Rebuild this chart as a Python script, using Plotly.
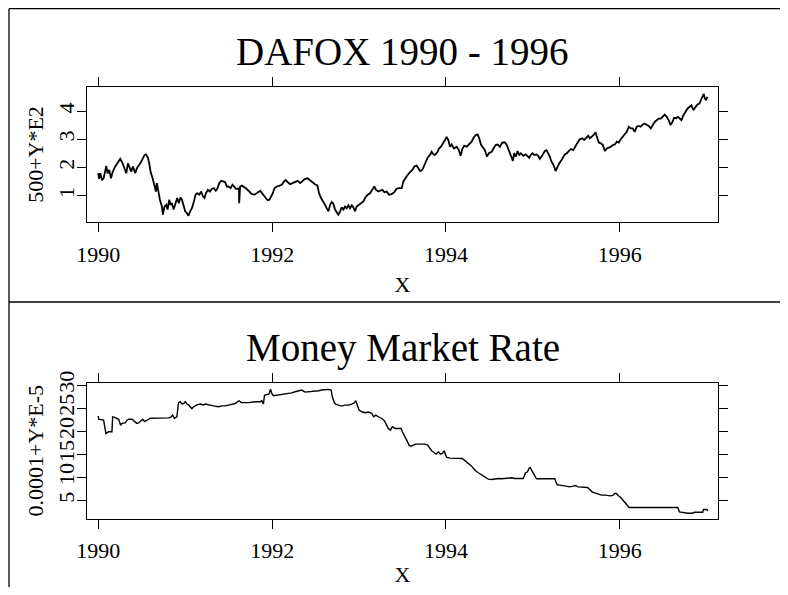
import plotly.graph_objects as go

# ---------------- data ----------------
dafox_year = [
    1990.000, 1990.008, 1990.023, 1990.042, 1990.061, 1990.080, 1990.092, 1990.107, 1990.126, 1990.146,
    1990.165, 1990.195, 1990.222, 1990.253, 1990.280, 1990.303, 1990.322, 1990.341, 1990.360, 1990.379,
    1990.398, 1990.425, 1990.444, 1990.464, 1990.483, 1990.510, 1990.533, 1990.548, 1990.571, 1990.586,
    1990.602, 1990.625, 1990.644, 1990.663, 1990.674, 1990.693, 1990.709, 1990.732, 1990.743, 1990.762,
    1990.782, 1990.797, 1990.816, 1990.831, 1990.847, 1990.866, 1990.885, 1990.908, 1990.927, 1990.946,
    1990.962, 1990.981, 1991.000, 1991.019, 1991.038, 1991.057, 1991.077, 1991.100, 1991.119, 1991.138,
    1991.161, 1991.184, 1991.203, 1991.222, 1991.238, 1991.261, 1991.284, 1991.307, 1991.330, 1991.352,
    1991.372, 1991.391, 1991.414, 1991.437, 1991.460, 1991.479, 1991.498, 1991.521, 1991.544, 1991.563,
    1991.582, 1991.605, 1991.618, 1991.621, 1991.624, 1991.632, 1991.651, 1991.670, 1991.697, 1991.728,
    1991.747, 1991.766, 1991.797, 1991.824, 1991.843, 1991.862, 1991.881, 1991.904, 1991.927, 1991.950,
    1991.969, 1991.989, 1992.008, 1992.027, 1992.054, 1992.080, 1992.111, 1992.138, 1992.157, 1992.180,
    1992.207, 1992.234,
    1992.264, 1992.295, 1992.322, 1992.349, 1992.379, 1992.406, 1992.437, 1992.464, 1992.494, 1992.521,
    1992.540, 1992.563, 1992.590, 1992.609, 1992.628, 1992.648, 1992.667, 1992.686, 1992.705, 1992.724,
    1992.743, 1992.762, 1992.782, 1992.801, 1992.820, 1992.839, 1992.858, 1992.877, 1992.897, 1992.916,
    1992.935, 1992.954, 1992.973, 1993.000, 1993.023, 1993.050, 1993.069, 1993.100, 1993.126, 1993.153,
    1993.176, 1993.195, 1993.222, 1993.241, 1993.268, 1993.291, 1993.318, 1993.345, 1993.375, 1993.406,
    1993.433, 1993.460, 1993.490, 1993.510, 1993.529, 1993.559, 1993.586, 1993.613, 1993.636, 1993.663,
    1993.682, 1993.701, 1993.728, 1993.751, 1993.770, 1993.789, 1993.816, 1993.835, 1993.854, 1993.874,
    1993.904, 1993.920, 1993.943, 1993.969, 1993.989, 1994.008, 1994.027, 1994.046, 1994.065, 1994.092,
    1994.123, 1994.149, 1994.169, 1994.188, 1994.211, 1994.238, 1994.264, 1994.295, 1994.318, 1994.341,
    1994.364, 1994.383, 1994.402, 1994.421, 1994.448, 1994.471, 1994.494, 1994.525, 1994.548, 1994.571,
    1994.594, 1994.621, 1994.648,
    1994.678, 1994.697, 1994.724, 1994.747, 1994.770, 1994.785, 1994.805, 1994.824, 1994.843, 1994.862,
    1994.889, 1994.916, 1994.939, 1994.958, 1994.977, 1994.996, 1995.015, 1995.042, 1995.061, 1995.080,
    1995.100, 1995.119, 1995.138, 1995.157, 1995.176, 1995.195, 1995.215, 1995.238, 1995.261, 1995.284,
    1995.303, 1995.330, 1995.349, 1995.368, 1995.391, 1995.414, 1995.437, 1995.464, 1995.483, 1995.502,
    1995.521, 1995.540, 1995.567, 1995.590, 1995.617, 1995.636, 1995.655, 1995.674, 1995.697, 1995.720,
    1995.743, 1995.759, 1995.782, 1995.805, 1995.828, 1995.851, 1995.874, 1995.897, 1995.920, 1995.943,
    1995.966, 1995.989, 1996.011, 1996.034, 1996.057, 1996.080, 1996.103, 1996.126, 1996.149, 1996.172,
    1996.195, 1996.218, 1996.241, 1996.264, 1996.287, 1996.310, 1996.333, 1996.356, 1996.379, 1996.402,
    1996.425, 1996.448, 1996.471, 1996.494, 1996.517, 1996.540, 1996.563, 1996.582, 1996.602, 1996.625,
    1996.648, 1996.670, 1996.693, 1996.709, 1996.732, 1996.755, 1996.778, 1996.801, 1996.824, 1996.847,
    1996.870, 1996.893, 1996.916, 1996.939, 1996.954, 1996.966, 1996.977, 1996.992, 1997.008,
]
dafox_value = [
    1.80, 1.60, 1.80, 1.56, 1.62, 1.86, 2.06, 1.80, 1.92, 1.62,
    1.84, 2.04, 2.15, 2.31, 2.15, 1.98, 1.80, 2.15, 1.98, 1.86,
    2.04, 1.80, 1.98, 2.06, 2.15, 2.31, 2.45, 2.47, 2.35, 2.15,
    1.84, 1.62, 1.39, 1.15, 1.45, 1.04, 0.86, 0.62, 0.33, 0.62,
    0.68, 0.51, 0.86, 0.68, 0.74, 0.51, 0.74, 0.92, 0.74, 0.94,
    0.86, 0.62, 0.45, 0.39, 0.29, 0.45, 0.56, 0.80, 1.04, 1.09,
    1.04, 1.15, 0.98, 0.92, 1.09, 1.21, 1.15, 1.25, 1.27, 1.18,
    1.27, 1.45, 1.53, 1.51, 1.48, 1.33, 1.33, 1.27, 1.39, 1.33,
    1.25, 1.25, 1.25, 0.74, 1.30, 1.33, 1.36, 1.33, 1.27, 1.18,
    1.13, 1.06, 1.04, 1.08, 1.13, 1.18, 1.09, 1.01, 0.92, 0.84,
    0.86, 0.98, 1.09, 1.27, 1.33, 1.35, 1.39, 1.51, 1.56, 1.48,
    1.41, 1.45,
    1.48, 1.53, 1.45, 1.51, 1.60, 1.62, 1.54, 1.47, 1.41, 1.36,
    1.09, 0.92, 0.80, 0.68, 0.56, 0.45, 0.68, 0.78, 0.71, 0.51,
    0.42, 0.33, 0.45, 0.59, 0.51, 0.62, 0.56, 0.66, 0.56, 0.66,
    0.59, 0.45, 0.62, 0.68, 0.74, 0.80, 0.92, 1.04, 1.09, 1.21,
    1.33, 1.21, 1.15, 1.18, 1.21, 1.13, 1.15, 1.04, 1.06, 1.13,
    1.25, 1.27, 1.27, 1.51, 1.62, 1.74, 1.84, 1.92, 2.04, 2.07,
    1.98, 1.88, 1.92, 2.09, 2.21, 2.35, 2.45, 2.56, 2.47, 2.45,
    2.56, 2.68, 2.74, 2.86, 2.98, 3.09, 2.98, 2.74, 2.82, 2.68,
    2.74, 2.62, 2.42, 2.66, 2.78, 2.74, 2.82, 2.92, 3.06, 3.15,
    3.18, 3.04, 2.82, 2.74, 2.62, 2.39, 2.51, 2.56, 2.68, 2.80,
    2.82, 2.74, 2.89,
    2.89, 2.82, 2.62, 2.45, 2.24, 2.51, 2.39, 2.59, 2.45, 2.51,
    2.42, 2.47, 2.39, 2.35, 2.45, 2.51, 2.45, 2.47, 2.42, 2.31,
    2.39, 2.51, 2.59, 2.62, 2.51, 2.39, 2.21, 2.09, 1.88, 2.04,
    2.15, 2.27, 2.39, 2.47, 2.51, 2.59, 2.66, 2.62, 2.74, 2.80,
    2.92, 3.01, 3.04, 2.98, 3.09, 3.13, 3.04, 3.09, 3.15, 3.25,
    3.04, 2.89, 2.86, 2.80, 2.59, 2.68, 2.71, 2.74, 2.80, 2.82,
    2.92, 2.89, 3.01, 3.09, 3.18, 3.27, 3.45, 3.39, 3.39, 3.27,
    3.45, 3.48, 3.45, 3.53, 3.56, 3.51, 3.48, 3.39, 3.53, 3.62,
    3.68, 3.74, 3.74, 3.80, 3.88, 3.80, 3.68, 3.51, 3.60, 3.76,
    3.76, 3.80, 3.74, 3.68, 3.86, 3.98, 4.09, 4.15, 4.21, 4.04,
    4.15, 4.24, 4.27, 4.42, 4.56, 4.62, 4.47, 4.39, 4.51,
]

mmr_year = [
    1990.000, 1990.004, 1990.061, 1990.073, 1990.088, 1990.103, 1990.119, 1990.157, 1990.165, 1990.188,
    1990.215, 1990.234, 1990.249, 1990.257, 1990.272, 1990.310, 1990.330, 1990.349, 1990.387, 1990.418,
    1990.444, 1990.464, 1990.483, 1990.510, 1990.533, 1990.559, 1990.579, 1990.598, 1990.655, 1990.732,
    1990.808, 1990.839, 1990.854, 1990.877, 1990.904, 1990.923, 1990.943, 1990.962, 1990.981, 1991.000,
    1991.019, 1991.038, 1991.057, 1991.077, 1991.096, 1991.134, 1991.172, 1991.211, 1991.230, 1991.268,
    1991.326, 1991.383, 1991.421, 1991.460, 1991.498, 1991.536, 1991.575, 1991.605, 1991.621, 1991.644,
    1991.670, 1991.728, 1991.805, 1991.862, 1991.881, 1991.900, 1991.912, 1991.939, 1991.966, 1991.981,
    1991.996, 1992.015, 1992.054, 1992.111, 1992.169, 1992.226,
    1992.264, 1992.303, 1992.341, 1992.379, 1992.418, 1992.456, 1992.494, 1992.533, 1992.571, 1992.609,
    1992.648, 1992.678, 1992.693, 1992.716, 1992.732, 1992.762, 1992.801, 1992.839, 1992.877, 1992.916,
    1992.946, 1992.962, 1992.977, 1993.000, 1993.031, 1993.069, 1993.107, 1993.146, 1993.169, 1993.192,
    1993.222, 1993.261, 1993.291, 1993.314, 1993.337, 1993.360, 1993.383, 1993.414, 1993.452, 1993.483,
    1993.498, 1993.521, 1993.548, 1993.575, 1993.598, 1993.625, 1993.651, 1993.682, 1993.720, 1993.759,
    1993.789, 1993.812, 1993.835, 1993.866, 1993.889, 1993.912, 1993.935, 1993.958, 1993.981, 1993.996,
    1994.011, 1994.046, 1994.103, 1994.161, 1994.188, 1994.211, 1994.238, 1994.264, 1994.295, 1994.318,
    1994.341, 1994.372, 1994.402, 1994.429, 1994.456, 1994.487, 1994.525, 1994.563, 1994.602, 1994.640,
    1994.678,
    1994.716, 1994.755, 1994.793, 1994.831, 1994.889, 1994.916, 1994.939, 1994.954, 1994.969, 1994.985,
    1995.004, 1995.023, 1995.042, 1995.100, 1995.176, 1995.253, 1995.264, 1995.280, 1995.310, 1995.349,
    1995.387, 1995.425, 1995.464, 1995.490, 1995.521, 1995.579, 1995.628, 1995.655, 1995.682, 1995.713,
    1995.751, 1995.789, 1995.828, 1995.866, 1995.897, 1995.923, 1995.943, 1995.962, 1995.981, 1996.011,
    1996.038, 1996.065, 1996.088, 1996.107, 1996.134, 1996.211, 1996.326, 1996.441, 1996.556, 1996.667,
    1996.686, 1996.724, 1996.782, 1996.839, 1996.858, 1996.916, 1996.954, 1996.962, 1996.992, 1997.004,
    1997.012,
]
mmr_value = [
    23.3, 22.6, 22.4, 21.0, 19.5, 19.7, 19.9, 19.9, 23.1, 23.0,
    22.8, 22.6, 21.8, 21.3, 21.7, 21.8, 22.4, 22.6, 22.6, 22.1,
    21.7, 21.8, 22.1, 22.6, 22.1, 22.3, 22.6, 22.8, 22.8, 22.8,
    22.9, 23.1, 23.5, 22.8, 23.1, 26.2, 26.4, 25.9, 26.0, 26.4,
    25.9, 25.7, 25.2, 24.9, 25.3, 25.7, 25.9, 25.7, 25.9, 25.7,
    25.5, 25.3, 25.5, 25.5, 25.7, 25.8, 26.0, 26.4, 26.6, 26.2,
    26.2, 26.2, 26.4, 26.4, 26.6, 25.9, 27.8, 28.0, 28.1, 29.1,
    28.2, 27.7, 27.8, 28.1, 28.2, 28.3,
    28.55, 28.77, 28.92, 28.48, 28.55, 28.48, 28.55, 28.77, 28.92, 29.06,
    29.06, 28.92, 27.47, 26.17, 25.88, 25.66, 25.45, 25.66, 25.66, 25.88,
    26.17, 26.60, 25.66, 24.58, 24.22, 24.00, 24.15, 23.86, 23.14, 23.50,
    23.14, 22.77, 22.27, 21.33, 20.61, 20.25, 20.97, 20.61, 20.61, 20.61,
    19.88, 19.16, 18.08, 16.99, 16.78, 16.99, 17.21, 17.21, 17.21, 17.21,
    16.99, 16.27, 15.77, 15.33, 15.04, 15.55, 15.04, 15.19, 15.77, 14.83,
    14.32, 14.18, 14.18, 14.18, 14.10, 13.74, 13.38, 13.02, 12.44, 11.94,
    11.43, 11.00, 10.64, 10.27, 9.91, 9.62, 9.55, 9.70, 9.77, 9.70,
    9.77,
    9.77, 9.91, 9.77, 9.77, 9.77, 11.00, 11.21, 11.94, 12.15, 11.57,
    10.85, 10.13, 9.70, 9.70, 9.70, 9.70, 9.05, 8.40, 8.32, 8.25,
    8.11, 7.96, 8.11, 8.25, 7.96, 7.96, 7.82, 7.38, 6.88, 6.66,
    6.37, 6.16, 6.16, 6.01, 6.01, 6.16, 6.52, 6.52, 6.08, 5.65,
    5.07, 4.49, 3.99, 3.48, 3.48, 3.48, 3.34, 3.48, 3.48, 3.48,
    2.54, 2.40, 2.25, 2.25, 2.47, 2.47, 2.47, 3.05, 3.05, 3.05,
    2.76,
]

x_ticks = [1990, 1992, 1994, 1996]
dafox_ticks = [1, 2, 3, 4]
mmr_ticks = [5, 10, 15, 20, 25, 30]

title_top = "DAFOX 1990 - 1996"
title_bottom = "Money Market Rate"
ytitle_top = "500+Y*E2"
ytitle_bottom = "0.0001+Y*E-5"
xtitle = "X"

# ---------------- figure ----------------
# the page body has an 8px margin, so the figure is drawn 8px in from the
# window corner; positions below are given in window pixels and shifted.
OFF = 8
W, H = 788 - OFF, 595 - 2 * OFF
FONT = "Liberation Serif"

fig = go.Figure()
fig.add_trace(go.Scatter(x=dafox_year, y=dafox_value, mode="lines",
                         line=dict(color="black", width=1.8),
                         xaxis="x", yaxis="y", showlegend=False, hoverinfo="skip"))
fig.add_trace(go.Scatter(x=mmr_year, y=mmr_value, mode="lines",
                         line=dict(color="black", width=1.4),
                         xaxis="x2", yaxis="y2", showlegend=False, hoverinfo="skip"))

def px_x(p):
    return (p - OFF) / W

def px_y(p):
    return 1 - (p - OFF) / H

ax_common = dict(showline=True, linecolor="black", linewidth=1.3, mirror="ticks",
                 ticks="outside", ticklen=9, tickwidth=1.3, tickcolor="black",
                 showgrid=False, zeroline=False, automargin=False,
                 tickfont=dict(family=FONT, size=22, color="black"))

xdom = [px_x(87), px_x(718)]
xrange_ = [1989.87, 1997.13]

fig.update_layout(
    template="none",
    width=W, height=H,
    margin=dict(l=0, r=0, t=0, b=0, pad=0),
    paper_bgcolor="white", plot_bgcolor="white",
    font=dict(family=FONT, color="black"),
    xaxis=dict(domain=xdom, range=xrange_, tickvals=x_ticks, anchor="y", ticklabelstandoff=3,
               title=dict(text=xtitle, font=dict(family=FONT, size=22), standoff=11),
               **ax_common),
    yaxis=dict(domain=[px_y(222), px_y(87)], range=[0.07, 4.86], tickvals=dafox_ticks,
               tickangle=-90, anchor="x", ticklabelstandoff=-6,
               title=dict(text=ytitle_top, font=dict(family=FONT, size=22), standoff=4),
               **ax_common),
    xaxis2=dict(domain=xdom, range=xrange_, tickvals=x_ticks, anchor="y2", ticklabelstandoff=3,
                title=dict(text=xtitle, font=dict(family=FONT, size=22), standoff=21),
                **ax_common),
    yaxis2=dict(domain=[px_y(518.5), px_y(383)], range=[1.1, 30.45], tickvals=mmr_ticks,
                tickangle=-90, anchor="x2", ticklabelstandoff=-6,
                title=dict(text=ytitle_bottom, font=dict(family=FONT, size=22), standoff=4),
                **ax_common),
    annotations=[
        dict(text=title_top, x=px_x(402.5), y=px_y(52), xref="paper", yref="paper",
             xanchor="center", yanchor="middle", showarrow=False,
             font=dict(family=FONT, size=39, color="black")),
        dict(text=title_bottom, x=px_x(402.5), y=px_y(348), xref="paper", yref="paper",
             xanchor="center", yanchor="middle", showarrow=False,
             font=dict(family=FONT, size=39, color="black")),
    ],
    shapes=[
        dict(type="line", xref="paper", yref="paper", x0=px_x(9), x1=px_x(785), y0=px_y(8.7), y1=px_y(8.7),
             line=dict(color="black", width=1.3)),
        dict(type="line", xref="paper", yref="paper", x0=px_x(9), x1=px_x(9), y0=px_y(8.7), y1=-0.05,
             line=dict(color="black", width=1.3)),
        dict(type="line", xref="paper", yref="paper", x0=px_x(9), x1=px_x(785), y0=px_y(302), y1=px_y(302),
             line=dict(color="black", width=1.3)),
    ],
)

fig.write_html("out.html")
